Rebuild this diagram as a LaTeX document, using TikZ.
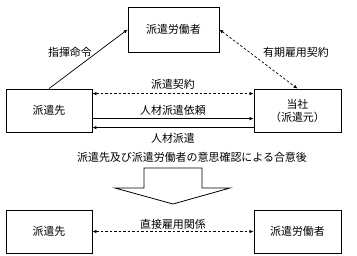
\documentclass[tikz,border=0pt]{standalone}
\usepackage{fontspec}
\setmainfont{Noto Sans CJK JP}
\usetikzlibrary{arrows.meta}
\begin{document}
\begin{tikzpicture}[x=1bp,y=-1bp,
  box/.style={draw,line width=0.8bp,minimum width=#1,inner sep=0pt},
  lbl/.style={inner sep=0pt,font=\fontsize{11}{13}\selectfont},
  conn/.style={line width=0.7bp,-{Latex[length=4bp,width=3.5bp]}},
  dconn/.style={conn,{Latex[length=4bp,width=3.5bp]}-{Latex[length=4bp,width=3.5bp]},dash pattern=on 2.5bp off 2bp}
]
\useasboundingbox (0,0) rectangle (357,256);
\tikzset{every node/.append style={font=\fontsize{11}{13}\selectfont}}
\node[draw,line width=0.8bp,minimum width=91bp,minimum height=45bp,inner sep=0pt] (top) at (173.5,29.5) {派遣労働者};
\node[draw,line width=0.8bp,minimum width=86bp,minimum height=43bp,inner sep=0pt] (left) at (49,110.5) {派遣先};
\node[draw,line width=0.8bp,minimum width=87bp,minimum height=43bp,inner sep=0pt,align=center] (right) at (297.5,110.5) {当社\\（派遣元）};
\node[draw,line width=0.8bp,minimum width=86bp,minimum height=43bp,inner sep=0pt] (bl) at (49,231.5) {派遣先};
\node[draw,line width=0.8bp,minimum width=87bp,minimum height=43bp,inner sep=0pt] (br) at (297.5,231.5) {派遣労働者};

\draw[conn] (left.north) -- (top.west);
\draw[dconn] (top.east) -- (right.north);
\draw[dconn] ([yshift=-5bp]left.north east) -- ([yshift=-5bp]right.north west);
\draw[conn] ([yshift=-30bp]left.north east) -- ([yshift=-30bp]right.north west);
\draw[conn] ([yshift=-39bp]right.north west) -- ([yshift=-39bp]left.north east);
\draw[dconn] (bl.east) -- (br.west);

\node[lbl] (l1) at (70,52) {指揮命令};
\node[lbl] (l2) at (296,52) {有期雇用契約};
\node[lbl] (l3) at (173,84) {派遣契約};
\node[lbl] (l4) at (173,110) {人材派遣依頼};
\node[lbl] (l5) at (173,138) {人材派遣};
\node[lbl] (l6) at (192,157) {派遣先及び派遣労働者の意思確認による合意後};
\node[lbl] (l7) at (173,224) {直接雇用関係};

\draw[line width=0.8bp] (144,168) -- (202,168) -- (202,188) -- (230,188) -- (173,204) -- (115,188) -- (144,188) -- cycle;
\end{tikzpicture}
\end{document}
